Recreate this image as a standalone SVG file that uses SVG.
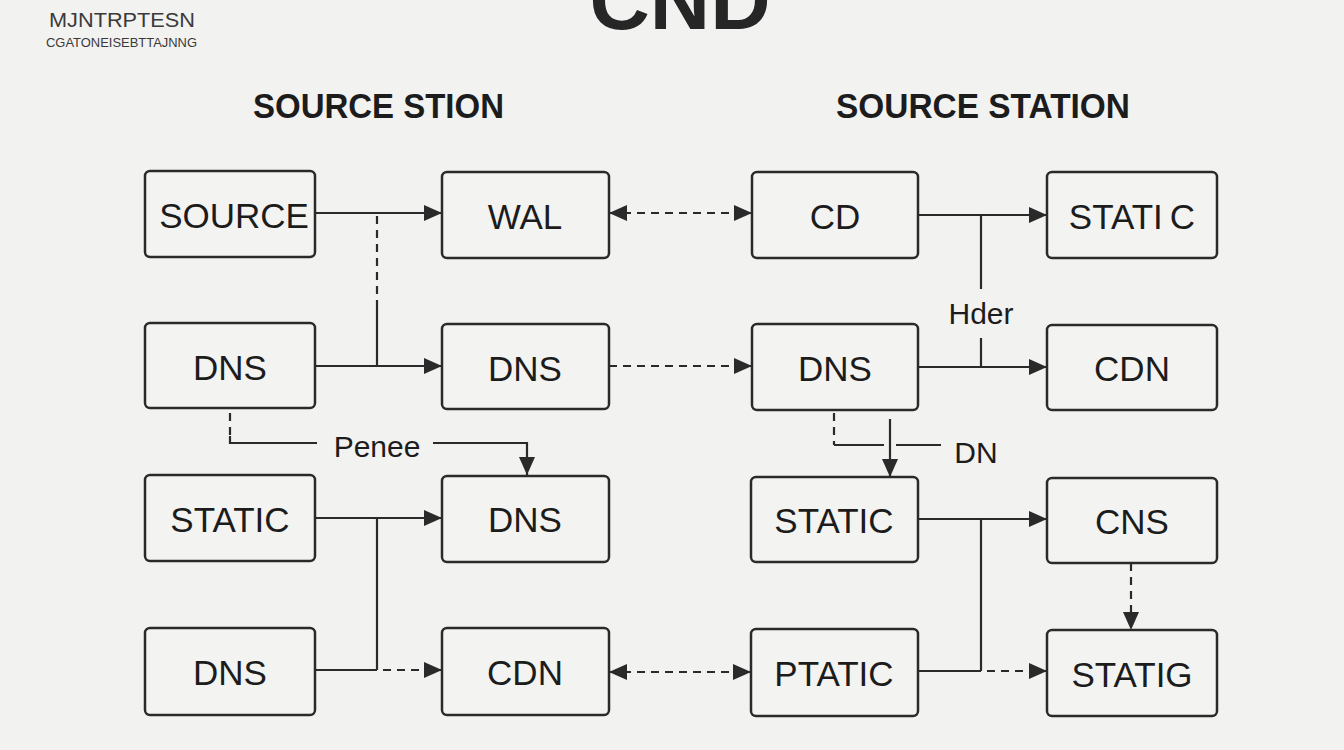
<svg xmlns="http://www.w3.org/2000/svg" width="1344" height="750" viewBox="0 0 1344 750">
<style>
.bg{fill:#f2f2f1}
.box{fill:#f3f3f2;stroke:#2a2a2a;stroke-width:2.5}
.t{font-family:"Liberation Sans",Arial,sans-serif;font-size:35px;fill:#1c1c1c;text-anchor:middle}
.lbl{font-family:"Liberation Sans",Arial,sans-serif;font-size:30px;fill:#1c1c1c;text-anchor:middle}
.title{font-family:"Liberation Sans",Arial,sans-serif;font-size:35px;font-weight:bold;fill:#1c1c1c}
.ln{fill:none;stroke:#2a2a2a;stroke-width:2.2}
.dash{stroke-dasharray:8 6}
</style>
<defs>
<marker id="ah" markerUnits="userSpaceOnUse" markerWidth="20" markerHeight="18" refX="18" refY="8" orient="auto-start-reverse">
<path d="M0,0 L18,8 L0,16 z" fill="#2a2a2a"/>
</marker>
</defs>
<rect class="bg" x="0" y="0" width="1344" height="750"/>

<g id="header">
<text x="680" y="29" font-family="Liberation Sans,Arial,sans-serif" font-size="82" font-weight="bold" fill="#262626" text-anchor="middle" textLength="181" lengthAdjust="spacingAndGlyphs">CND</text>
<text x="49" y="27" font-family="Liberation Sans,Arial,sans-serif" font-size="20" fill="#3a3a3a" textLength="146" lengthAdjust="spacingAndGlyphs">MJNTRPTESN</text>
<text x="46" y="47" font-family="Liberation Sans,Arial,sans-serif" font-size="13" fill="#3a3a3a" textLength="151" lengthAdjust="spacingAndGlyphs">CGATONEISEBTTAJNNG</text>
<text class="title" x="253" y="118" textLength="251" lengthAdjust="spacingAndGlyphs">SOURCE STION</text>
<text class="title" x="836" y="118" textLength="294" lengthAdjust="spacingAndGlyphs">SOURCE STATION</text>
</g>

<g id="connectors">
<path class="ln" d="M315,213 H442" marker-end="url(#ah)"/>
<path class="ln dash" d="M377,216 V302"/>
<path class="ln" d="M377,302 V366"/>
<path class="ln" d="M315,366 H442" marker-end="url(#ah)"/>
<path class="ln dash" d="M230,413 V436"/>
<path class="ln" d="M230,436 V443 H317"/>
<path class="ln" d="M433,443 H527 V475" marker-end="url(#ah)"/>
<path class="ln" d="M315,518 H442" marker-end="url(#ah)"/>
<path class="ln" d="M377,518 V670"/>
<path class="ln" d="M315,670 H377"/>
<path class="ln dash" d="M383,670 H442" marker-end="url(#ah)"/>
<path class="ln dash" d="M609,213 H752" marker-start="url(#ah)" marker-end="url(#ah)"/>
<path class="ln dash" d="M609,366 H752" marker-end="url(#ah)"/>
<path class="ln dash" d="M609,672 H751" marker-start="url(#ah)" marker-end="url(#ah)"/>
<path class="ln" d="M918,215 H1047" marker-end="url(#ah)"/>
<path class="ln" d="M981,215 V289"/>
<path class="ln" d="M981,338 V367"/>
<path class="ln" d="M918,367 H1047" marker-end="url(#ah)"/>
<path class="ln dash" d="M834,413 V445"/>
<path class="ln" d="M834,445 H884"/>
<path class="ln" d="M896,445 H941"/>
<path class="ln" d="M890,419 V477" marker-end="url(#ah)"/>
<path class="ln" d="M918,519 H1047" marker-end="url(#ah)"/>
<path class="ln" d="M981,519 V671"/>
<path class="ln" d="M918,671 H981"/>
<path class="ln dash" d="M987,671 H1047" marker-end="url(#ah)"/>
<path class="ln dash" d="M1131,563 V630" marker-end="url(#ah)"/>
<text class="lbl" x="377" y="457">Penee</text>
<text class="lbl" x="981" y="324">Hder</text>
<text class="lbl" x="976" y="463">DN</text>
</g>

<g id="n-source"><rect class="box" x="145" y="171" width="170" height="86" rx="5"/><text class="t" x="234" y="228">SOURCE</text></g>
<g id="n-dns-l2"><rect class="box" x="145" y="323" width="170" height="85" rx="5"/><text class="t" x="230" y="380">DNS</text></g>
<g id="n-static-l3"><rect class="box" x="145" y="475" width="170" height="86" rx="5"/><text class="t" x="230" y="532">STATIC</text></g>
<g id="n-dns-l4"><rect class="box" x="145" y="628" width="170" height="87" rx="5"/><text class="t" x="230" y="685">DNS</text></g>

<g id="n-wal"><rect class="box" x="442" y="172" width="167" height="86" rx="5"/><text class="t" x="525" y="229">WAL</text></g>
<g id="n-dns-c2"><rect class="box" x="442" y="324" width="167" height="85" rx="5"/><text class="t" x="525" y="381">DNS</text></g>
<g id="n-dns-c3"><rect class="box" x="442" y="476" width="167" height="86" rx="5"/><text class="t" x="525" y="532">DNS</text></g>
<g id="n-cdn-c4"><rect class="box" x="442" y="628" width="167" height="87" rx="5"/><text class="t" x="525" y="685">CDN</text></g>

<g id="n-cd"><rect class="box" x="752" y="172" width="166" height="86" rx="5"/><text class="t" x="835" y="229">CD</text></g>
<g id="n-dns-r2"><rect class="box" x="752" y="324" width="166" height="86" rx="5"/><text class="t" x="835" y="381">DNS</text></g>
<g id="n-static-r3"><rect class="box" x="751" y="477" width="167" height="85" rx="5"/><text class="t" x="834" y="533">STATIC</text></g>
<g id="n-ptatic"><rect class="box" x="751" y="629" width="167" height="87" rx="5"/><text class="t" x="834" y="686">PTATIC</text></g>

<g id="n-static-r1"><rect class="box" x="1047" y="172" width="170" height="86" rx="5"/><text class="t" x="1132" y="229">STATI<tspan dx="7">C</tspan></text></g>
<g id="n-cdn-r2"><rect class="box" x="1047" y="325" width="170" height="85" rx="5"/><text class="t" x="1132" y="381">CDN</text></g>
<g id="n-cns"><rect class="box" x="1047" y="478" width="170" height="85" rx="5"/><text class="t" x="1132" y="534">CNS</text></g>
<g id="n-statig"><rect class="box" x="1047" y="630" width="170" height="86" rx="5"/><text class="t" x="1132" y="687">STATIG</text></g>
</svg>
